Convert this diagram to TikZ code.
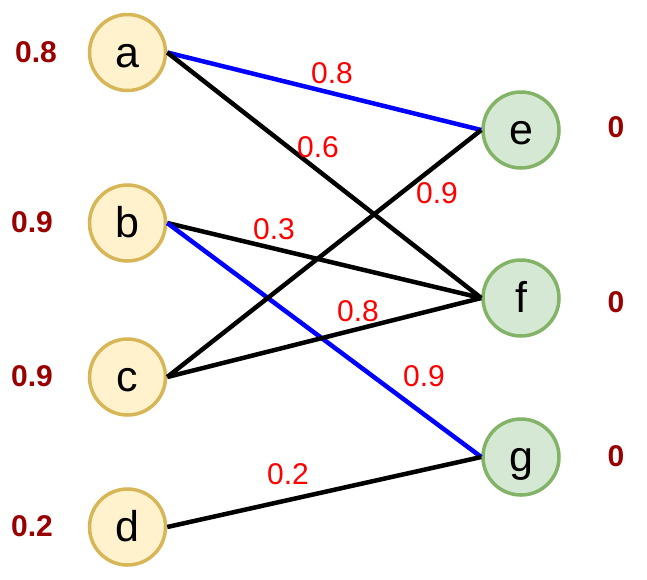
\documentclass[tikz,border=0pt]{standalone}
\usepackage{fontspec}
\setmainfont{Liberation Sans}
\begin{document}
\begin{tikzpicture}[x=1pt,y=-1pt,
  srcnode/.style={circle, draw=srcborder, fill=srcfill, line width=3.5pt, minimum size=76pt, inner sep=0pt,
    font=\fontsize{43}{43}\selectfont, text height=38pt, text depth=9pt},
  dstnode/.style={srcnode, draw=dstborder, fill=dstfill},
  wlabel/.style={text=wred, font=\fontsize{30}{30}\selectfont, inner sep=0pt},
  vlabel/.style={text=vred, font=\fontsize{30}{30}\selectfont\bfseries, inner sep=0pt},
  edge/.style={line width=4.5pt, black},
  bedge/.style={line width=4.5pt, edgeblue}]
\definecolor{srcfill}{HTML}{FFF2CC}
\definecolor{srcborder}{HTML}{D6B656}
\definecolor{dstfill}{HTML}{D5E8D4}
\definecolor{dstborder}{HTML}{82B366}
\definecolor{wred}{HTML}{FF0000}
\definecolor{vred}{HTML}{990000}
\definecolor{edgeblue}{HTML}{0000FF}
\useasboundingbox (0,0) rectangle (647,579);
\node[srcnode] (a) at (127.5,52.5) {a};
\node[srcnode] (b) at (127.5,223) {b};
\node[srcnode] (c) at (127.5,377) {c};
\node[srcnode] (d) at (127.5,527) {d};
\node[dstnode] (e) at (521,130) {e};
\node[dstnode] (f) at (521,298) {f};
\node[dstnode] (g) at (521,457) {g};
\draw[bedge] (a.east) -- (e.west);
\draw[edge] (a.east) -- (f.west);
\draw[edge] (b.east) -- (f.west);
\draw[bedge] (b.east) -- (g.west);
\draw[edge] (c.east) -- (e.west);
\draw[edge] (c.east) -- (f.west);
\draw[edge] (d.east) -- (g.west);
\node[wlabel] (wae) at (332,73) {0.8};
\node[wlabel] (waf) at (318,147) {0.6};
\node[wlabel] (wce) at (437,193) {0.9};
\node[wlabel] (wbf) at (274,229) {0.3};
\node[wlabel] (wcf) at (358,311) {0.8};
\node[wlabel] (wbg) at (424,376) {0.9};
\node[wlabel] (wdg) at (288,474) {0.2};
\node[vlabel] (va) at (36,52) {0.8};
\node[vlabel] (vb) at (32,222) {0.9};
\node[vlabel] (vc) at (32,376) {0.9};
\node[vlabel] (vd) at (32,526) {0.2};
\node[vlabel] (ve) at (616,127) {0};
\node[vlabel] (vf) at (616,302) {0};
\node[vlabel] (vg) at (616,456) {0};
\end{tikzpicture}
\end{document}
